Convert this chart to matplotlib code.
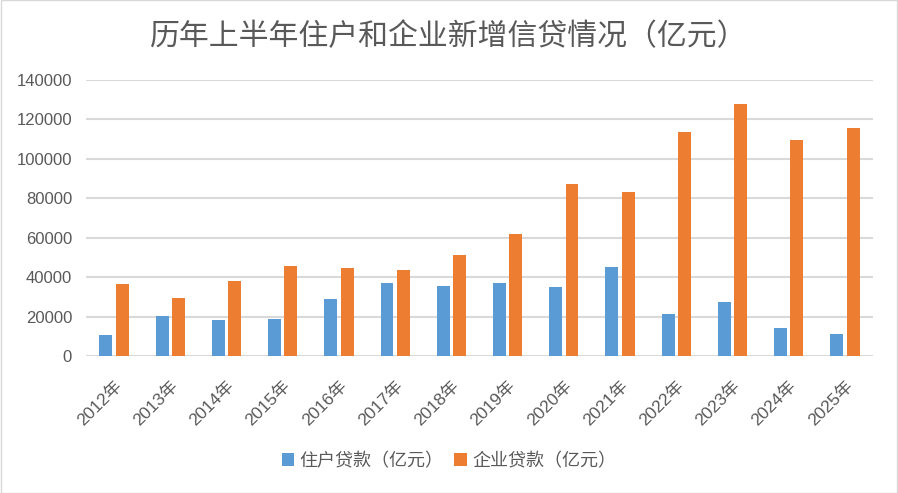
import matplotlib
matplotlib.use("Agg")
import matplotlib.pyplot as plt
import numpy as np

plt.rcParams['font.family'] = ['Liberation Sans', 'Noto Sans CJK SC', 'DejaVu Sans']

years = ["2012年", "2013年", "2014年", "2015年", "2016年", "2017年", "2018年",
         "2019年", "2020年", "2021年", "2022年", "2023年", "2024年", "2025年"]
household = [10500, 20100, 18100, 18600, 28800, 36900, 35400,
             36900, 34900, 45000, 21200, 27200, 14000, 11000]
enterprise = [36400, 29300, 37900, 45500, 44500, 43500, 51100,
              61700, 87100, 83000, 113500, 127700, 109400, 115500]
yticks = [0, 20000, 40000, 60000, 80000, 100000, 120000, 140000]

blue = "#5b9bd5"
orange = "#ed7d31"
gray_text = "#595959"

fig = plt.figure(figsize=(8.98, 4.93), dpi=100)
ax = fig.add_axes([86 / 898, 1 - 356 / 493, (873 - 86) / 898, (356 - 79.7) / 493])

x = np.arange(len(years))
w = 0.23
ax.bar(x - 0.145, household, w, color=blue, label="住户贷款（亿元）", zorder=3)
ax.bar(x + 0.145, enterprise, w, color=orange, label="企业贷款（亿元）", zorder=3)

ax.set_xlim(-0.5, len(years) - 0.5)
ax.set_ylim(0, 140000)
ax.set_yticks(yticks)
ax.set_yticklabels([str(v) for v in yticks], fontsize=12, color=gray_text)
ax.set_xticks(x)
ax.set_xticklabels(years, rotation=45, ha="right", rotation_mode="anchor",
                   fontsize=12.5, color=gray_text)
ax.tick_params(axis="y", length=0, pad=10)
ax.tick_params(axis="x", length=0, pad=16)
ax.grid(axis="y", color="#d9d9d9", linewidth=1.5, zorder=0)
for s in ax.spines.values():
    s.set_visible(False)

fig.text(0.5, 1 - 37 / 493, "历年上半年住户和企业新增信贷情况（亿元）", ha="center", va="center",
         fontsize=21.5, color=gray_text, family=['Noto Sans CJK SC', 'DejaVu Sans'])

fig.legend(loc="center", bbox_to_anchor=(0.5, 1 - 461 / 493), ncol=2, frameon=False,
           labelcolor=gray_text, handlelength=0.7, handleheight=0.7,
           handletextpad=0.3, columnspacing=0.6,
           prop={'family': ['Noto Sans CJK SC', 'DejaVu Sans'], 'size': 13})

fig.patches.append(plt.Rectangle((0.001, 0.001), 0.998, 0.998, transform=fig.transFigure,
                                 fill=False, edgecolor="#d9d9d9", linewidth=1))

fig.savefig("out.png", dpi=100)
